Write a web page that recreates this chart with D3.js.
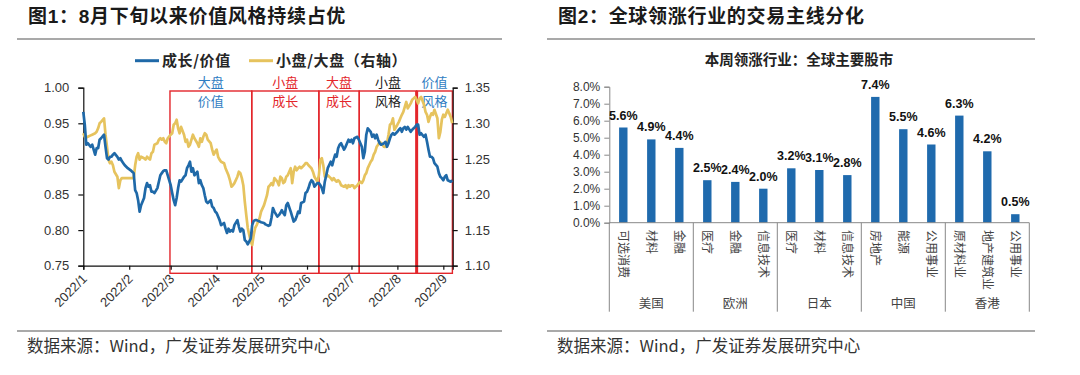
<!DOCTYPE html>
<html><head><meta charset="utf-8">
<script src="https://cdn.jsdelivr.net/npm/d3@7"></script>
<style>body{margin:0;background:#fff}svg{display:block}</style>
</head><body>
<svg id="c" width="1080" height="375"></svg>
<script>
// ---------- Figure 1 data ----------
const dates = ["01-01","01-02","01-03","01-04","01-06","01-07","01-08","01-09","01-10","01-11","01-12","01-13","01-15","01-16","01-17","01-18","01-19","01-20","01-21","01-22","01-24","01-25","01-26","01-27","01-28","01-29","01-30","01-31",
"02-02","02-03","02-04","02-05","02-06","02-07","02-08","02-09","02-11","02-12","02-13","02-14","02-15","02-16","02-17","02-18","02-20","02-21","02-22","02-23","02-24","02-25","02-26","02-27",
"03-01","03-02","03-03","03-04","03-05","03-06","03-07","03-08","03-10","03-11","03-12","03-13","03-14","03-15","03-16","03-17","03-19","03-20","03-21","03-22","03-23","03-24","03-25","03-26","03-28","03-29","03-30","03-31",
"04-01","04-02","04-03","04-04","04-06","04-07","04-08","04-09","04-10","04-11","04-12","04-13","04-15","04-16","04-17","04-18","04-19","04-20","04-21","04-22","04-24",
"04-25","04-26","04-27","04-28","04-29","04-30",
"05-01","05-03","05-04","05-05","05-06","05-07","05-08","05-09","05-10","05-12","05-13","05-14","05-15","05-16","05-17","05-18","05-19","05-21","05-22","05-23","05-24","05-25","05-26","05-27","05-28","05-30","05-31",
"06-01","06-02","06-03","06-04","06-05","06-06","06-08","06-09","06-10","06-11","06-12","06-13","06-14","06-15","06-17","06-18","06-19","06-20","06-21","06-22","06-23","06-24","06-26","06-27","06-28","06-29","06-30",
"07-01","07-02","07-03","07-05","07-06","07-07","07-08","07-09","07-10","07-11","07-12","07-14","07-15","07-16","07-17","07-18","07-19","07-20","07-21","07-23","07-24","07-25","07-26","07-27","07-28","07-29","07-30",
"08-01","08-02","08-03","08-04","08-05","08-06","08-07","08-08","08-10","08-11","08-12","08-13","08-14","08-15","08-16","08-17","08-19","08-20","08-21","08-22","08-23","08-24","08-25","08-26","08-28","08-29","08-30","08-31",
"09-01","09-02","09-03","09-04","09-06","09-07"];

// 成长/价值 (left axis)
const growthValue = [0.966,0.948,0.920,0.922,0.917,0.920,0.913,0.906,0.915,0.915,0.927,0.929,0.934,0.917,0.901,0.899,0.903,0.903,0.906,0.908,0.903,0.899,0.901,0.897,0.894,0.891,0.889,0.887,
0.884,0.882,0.880,0.856,0.852,0.842,0.826,0.835,0.845,0.859,0.866,0.861,0.863,0.854,0.854,0.852,0.859,0.868,0.877,0.880,0.883,0.884,0.884,0.877,
0.863,0.852,0.842,0.835,0.845,0.859,0.870,0.868,0.875,0.877,0.887,0.891,0.896,0.882,0.887,0.877,0.882,0.866,0.870,0.863,0.859,0.849,0.840,0.838,0.842,0.833,0.831,0.826,
0.824,0.819,0.814,0.807,0.810,0.802,0.796,0.802,0.798,0.800,0.798,0.807,0.814,0.805,0.798,0.802,0.800,0.786,0.784,0.780,0.788,
0.807,0.813,0.814,0.814,0.813,0.812,
0.811,0.810,0.808,0.807,0.806,0.807,0.817,0.831,0.826,0.819,0.821,0.824,0.828,0.824,0.821,0.835,0.838,0.826,0.819,0.812,0.814,0.819,0.826,0.824,0.838,0.840,0.852,
0.854,0.859,0.866,0.870,0.868,0.861,0.866,0.866,0.863,0.859,0.852,0.868,0.877,0.887,0.896,0.891,0.899,0.906,0.903,0.915,0.920,0.922,0.913,0.917,0.922,0.927,0.924,
0.927,0.922,0.929,0.931,0.927,0.922,0.917,0.901,0.910,0.934,0.943,0.938,0.931,0.934,0.929,0.934,0.927,0.922,0.920,0.922,0.924,0.917,0.922,0.929,0.934,0.936,0.934,
0.938,0.941,0.943,0.938,0.943,0.945,0.941,0.945,0.938,0.941,0.943,0.945,0.948,0.948,0.934,0.936,0.931,0.934,0.924,0.913,0.903,0.903,0.901,0.894,0.889,0.880,0.875,0.873,
0.870,0.875,0.877,0.870,0.868,0.870];

// 小盘/大盘 (right axis)
const smallLarge = [1.286,1.281,1.280,1.281,1.283,1.284,1.285,1.286,1.288,1.293,1.300,1.302,1.307,1.284,1.267,1.249,1.244,1.246,1.241,1.232,1.225,1.209,1.220,1.223,1.223,1.223,1.223,1.223,
1.223,1.223,1.223,1.241,1.253,1.258,1.249,1.253,1.251,1.249,1.253,1.251,1.249,1.258,1.260,1.270,1.272,1.277,1.279,1.277,1.279,1.274,1.272,1.279,
1.284,1.286,1.298,1.300,1.305,1.293,1.286,1.295,1.284,1.274,1.277,1.267,1.270,1.277,1.284,1.279,1.272,1.267,1.279,1.274,1.281,1.286,1.284,1.277,1.272,1.263,1.256,1.260,
1.263,1.253,1.249,1.246,1.244,1.237,1.232,1.227,1.220,1.211,1.213,1.216,1.225,1.232,1.230,1.223,1.213,1.190,1.171,1.153,1.134,
1.129,1.143,1.153,1.157,1.162,1.167,
1.176,1.185,1.192,1.199,1.211,1.213,1.216,1.213,1.223,1.218,1.213,1.225,1.223,1.216,1.218,1.225,1.227,1.237,1.216,1.232,1.239,1.234,1.237,1.239,1.237,1.241,1.244,
1.244,1.241,1.239,1.237,1.232,1.225,1.218,1.227,1.249,1.251,1.241,1.225,1.225,1.227,1.223,1.220,1.223,1.220,1.218,1.220,1.218,1.213,1.211,1.213,1.209,1.213,1.211,
1.213,1.213,1.209,1.213,1.216,1.218,1.216,1.220,1.227,1.230,1.237,1.246,1.249,1.256,1.260,1.267,1.270,1.274,1.272,1.267,1.267,1.272,1.284,1.298,1.300,1.307,1.291,
1.298,1.302,1.307,1.312,1.316,1.323,1.330,1.321,1.328,1.333,1.335,1.337,1.333,1.328,1.335,1.337,1.326,1.316,1.312,1.302,1.309,1.314,1.312,1.319,1.307,1.279,1.288,1.305,
1.312,1.309,1.314,1.319,1.309,1.300];

const leftTicks = [0.75, 0.80, 0.85, 0.90, 0.95, 1.00];
const rightTicks = [1.10, 1.15, 1.20, 1.25, 1.30, 1.35];
const monthTicks = ["2022-01-01","2022-02-01","2022-03-01","2022-04-01","2022-05-01","2022-06-01","2022-07-01","2022-08-01","2022-09-01"];
const regionBreaks = ["2022-02-28 12:00","2022-04-24 17:00","2022-06-09 00:00","2022-07-06 06:00","2022-08-14 00:00","2022-09-07 03:00"];
const regionLabels = [["大盘","价值"],["小盘","成长"],["大盘","成长"],["小盘","风格"],["价值","风格"]];
const seriesNames = ["成长/价值", "小盘/大盘（右轴）"];

// ---------- Figure 2 data ----------
const markets = ["美国","欧洲","日本","中国","香港"];
const sectors = ["可选消费","材料","金融","医疗","金融","信息技术","医疗","材料","信息技术","房地产","能源","公用事业","原材料业","地产建筑业","公用事业"];
const sectorMarket = ["美国","美国","美国","欧洲","欧洲","欧洲","日本","日本","日本","中国","中国","中国","香港","香港","香港"];
const weeklyGain = [5.6,4.9,4.4,2.5,2.4,2.0,3.2,3.1,2.8,7.4,5.5,4.6,6.3,4.2,0.5];
const gainTicks = [0,1,2,3,4,5,6,7,8];

// ---------- styles ----------
const BLUE = "#1f69a8", GOLD = "#e6c35e", RED = "#e3262b", LBLUE = "#2f7dc2";
const LAT = "'Liberation Sans', Arial, 'Noto Sans CJK SC', sans-serif";
const CJK = "'Noto Sans CJK SC', 'Liberation Sans', sans-serif";

const svg = d3.select("#c");
const parseDay = d3.timeParse("%Y-%m-%d");
const parseDT = d3.timeParse("%Y-%m-%d %H:%M");

// ---------- panel frames ----------
function panelFrame(x0, x1, title) {
  svg.append("text").attr("x", x0 + 11).attr("y", 23)
    .attr("font-family", LAT).attr("font-weight", "bold").attr("font-size", 19)
    .attr("letter-spacing", 0.7).attr("fill", "#1a1a1a").text(title);
  svg.append("line").attr("x1", x0).attr("x2", x1).attr("y1", 39).attr("y2", 39)
    .attr("stroke", "#555").attr("stroke-width", 1.2);
  svg.append("line").attr("x1", x0).attr("x2", x1).attr("y1", 331).attr("y2", 331)
    .attr("stroke", "#555").attr("stroke-width", 1.2);
  svg.append("text").attr("x", x0 + 10).attr("y", 352)
    .attr("font-family", CJK).attr("font-size", 16.5).attr("fill", "#333")
    .text("数据来源：Wind，广发证券发展研究中心");
}
panelFrame(17, 502, "图1：8月下旬以来价值风格持续占优");
panelFrame(547, 1035, "图2：全球领涨行业的交易主线分化");

// ---------- Figure 1 ----------
const x1 = d3.scaleTime().domain([parseDay("2022-01-01"), parseDT("2022-09-07 08:00")]).range([83.3, 452.7]);
const yL = d3.scaleLinear().domain([0.75, 1.00]).range([265.7, 87.7]);
const yR = d3.scaleLinear().domain([1.10, 1.35]).range([265.7, 87.7]);
const pts = dates.map((d, i) => ({ t: parseDay("2022-" + d), g: growthValue[i], s: smallLarge[i] }));

const g1 = svg.append("g");
// red boxes
const bTop = yL(1.00) + 3.3, bBot = yL(0.75) + 7.6;
const br = regionBreaks.map(s => x1(parseDT(s)));
const labelColors = [LBLUE, RED, RED, "#222", LBLUE];
for (let i = 0; i < regionLabels.length; i++) {
  g1.append("rect").attr("x", br[i]).attr("y", bTop).attr("width", br[i + 1] - br[i]).attr("height", bBot - bTop)
    .attr("fill", "none").attr("stroke", RED).attr("stroke-width", 1.4);
  const cx = (br[i] + br[i + 1]) / 2;
  regionLabels[i].forEach((t, j) => {
    g1.append("text").attr("x", cx).attr("y", 86.5 + j * 19).attr("text-anchor", "middle")
      .attr("font-family", CJK).attr("font-size", 13).attr("fill", labelColors[i]).text(t);
  });
}
g1.append("line").attr("x1", br[4]).attr("x2", br[4]).attr("y1", bTop).attr("y2", bBot)
  .attr("stroke", RED).attr("stroke-width", 3);

// axes
const axL = g1.append("g").attr("transform", "translate(83.3,0)")
  .call(d3.axisLeft(yL).tickValues(leftTicks).tickFormat(d3.format(".2f")).tickSizeOuter(0).tickSize(5).tickPadding(9));
const axR = g1.append("g").attr("transform", "translate(452.7,0)")
  .call(d3.axisRight(yR).tickValues(rightTicks).tickFormat(d3.format(".2f")).tickSizeOuter(0).tickSize(5).tickPadding(7));
const axB = g1.append("g").attr("transform", "translate(0,265.7)")
  .call(d3.axisBottom(x1).tickValues(monthTicks.map(parseDay)).tickFormat(d3.timeFormat("%Y/%-m")).tickSizeOuter(0).tickSize(4));
[axL, axR, axB].forEach(a => {
  a.selectAll("path,line").attr("stroke", "#111").attr("stroke-width", 1.2);
  a.selectAll("text").attr("font-family", LAT).attr("font-size", 13).attr("fill", "#333");
});
axB.selectAll("text").attr("text-anchor", "end").attr("dy", null).attr("y", 0)
  .attr("transform", "translate(4,14) rotate(-45)");

// lines
g1.append("path").datum(pts).attr("fill", "none").attr("stroke", GOLD).attr("stroke-width", 2.7)
  .attr("stroke-linejoin", "round")
  .attr("d", d3.line().x(d => x1(d.t)).y(d => yR(d.s)));
g1.append("path").datum(pts).attr("fill", "none").attr("stroke", BLUE).attr("stroke-width", 2.7)
  .attr("stroke-linejoin", "round")
  .attr("d", d3.line().x(d => x1(d.t)).y(d => yL(d.g)));

// legend
[[135, BLUE, seriesNames[0]], [249, GOLD, seriesNames[1]]].forEach(([lx, c, t]) => {
  g1.append("line").attr("x1", lx).attr("x2", lx + 24).attr("y1", 60.7).attr("y2", 60.7)
    .attr("stroke", c).attr("stroke-width", 3);
  g1.append("text").attr("x", lx + 27).attr("y", 66).attr("font-family", CJK).attr("font-weight", "bold")
    .attr("font-size", 15).attr("letter-spacing", 0.6).attr("fill", "#262626").text(t);
});

// ---------- Figure 2 ----------
const g2 = svg.append("g");
const xb = d3.scaleBand().domain(d3.range(sectors.length)).range([609.3, 1029.3]).paddingInner(0.7).paddingOuter(0.35);
const yb = d3.scaleLinear().domain([0, 8]).range([222.7, 86.7]);

g2.append("text").attr("x", 799).attr("y", 65).attr("text-anchor", "middle")
  .attr("font-family", CJK).attr("font-weight", "bold").attr("font-size", 14.5).attr("fill", "#222")
  .text("本周领涨行业：全球主要股市");

const axY2 = g2.append("g").attr("transform", "translate(609.3,0)")
  .call(d3.axisLeft(yb).tickValues(gainTicks).tickFormat(d => d3.format(".1f")(d) + "%").tickSizeOuter(0).tickSize(5).tickPadding(4));
axY2.selectAll("path,line").attr("stroke", "#888");
axY2.selectAll("text").attr("font-family", LAT).attr("font-size", 12).attr("fill", "#333");

g2.selectAll("rect.bar").data(weeklyGain).join("rect").attr("class", "bar")
  .attr("x", (d, i) => xb(i)).attr("width", xb.bandwidth())
  .attr("y", d => yb(d)).attr("height", d => yb(0) - yb(d)).attr("fill", "#1f6aad");

g2.selectAll("text.val").data(weeklyGain).join("text").attr("class", "val")
  .attr("x", (d, i) => xb(i) + xb.bandwidth() / 2).attr("y", d => yb(d) - 8)
  .attr("text-anchor", "middle").attr("font-family", LAT).attr("font-weight", "bold")
  .attr("font-size", 12.5).attr("fill", "#111").text(d => d.toFixed(1) + "%");

// baseline and group separators
g2.append("line").attr("x1", 609.3).attr("x2", 1029.3).attr("y1", yb(0)).attr("y2", yb(0)).attr("stroke", "#888");
const step = xb.step();
const groupEdges = [0];
markets.forEach(m => groupEdges.push(groupEdges[groupEdges.length - 1] + sectorMarket.filter(s => s === m).length));
groupEdges.forEach(k => {
  const gx = 609.3 + k * step;
  g2.append("line").attr("x1", gx).attr("x2", gx).attr("y1", yb(0)).attr("y2", 311.7).attr("stroke", "#888");
});
markets.forEach((m, i) => {
  const cx = 609.3 + (groupEdges[i] + groupEdges[i + 1]) / 2 * step;
  g2.append("text").attr("x", cx).attr("y", 308).attr("text-anchor", "middle")
    .attr("font-family", CJK).attr("font-size", 12.5).attr("fill", "#444").text(m);
});
sectors.forEach((s, i) => {
  const cx = xb(i) + xb.bandwidth() / 2;
  g2.append("text").attr("transform", `translate(${cx},230) rotate(90)`).attr("dy", "0.35em")
    .attr("font-family", CJK).attr("font-size", 12).attr("fill", "#444").text(s);
});
</script>
</body></html>
